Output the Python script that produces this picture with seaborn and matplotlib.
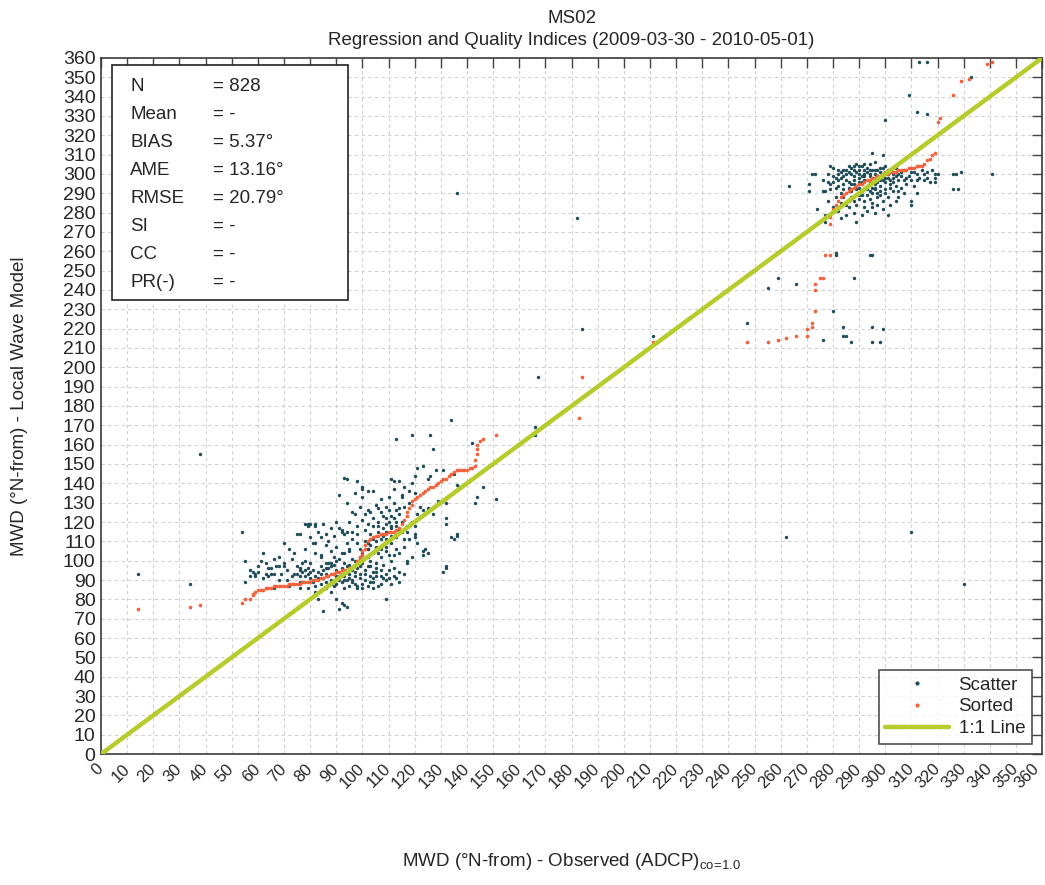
import numpy as np
import pandas as pd
import matplotlib
matplotlib.use('Agg')
import matplotlib.pyplot as plt
import matplotlib.transforms as mtransforms
from matplotlib.lines import Line2D
from matplotlib.patches import Rectangle
import seaborn as sns

# scatter points (observed ADCP, local wave model)
lower_cluster = [
    (134, 173), (113, 163), (119, 165), (126, 165), (127, 158), (142, 161), (151, 132), (143, 130),
    (144, 133), (146, 138), (121, 148), (123, 149), (120, 144), (125, 142), (126, 144), (128, 147),
    (131, 147), (135, 145), (136, 139), (137, 138), (132, 130), (129, 131), (125, 127), (127, 124),
    (132, 122), (132, 119), (136, 114), (135, 111), (123, 105), (125, 104), (117, 99), (132, 96),
    (131, 94), (109, 80), (93, 143), (94, 142), (98, 141), (91, 134), (100, 137), (102, 136),
    (104, 136), (100, 133), (105, 129), (103, 125), (106, 127), (101, 124), (111, 142), (112, 141),
    (114, 141), (112, 137), (115, 134), (115, 133), (110, 133), (107, 125), (113, 126), (109, 122),
    (111, 123), (109, 119), (113, 118), (111, 117), (114, 116), (117, 115), (120, 114), (120, 112),
    (118, 111), (121, 109), (116, 111), (116, 107), (110, 103), (111, 100), (107, 102), (105, 99),
    (102, 97), (104, 94), (107, 95), (108, 91), (109, 90), (111, 88), (113, 91), (114, 89),
    (104, 89), (102, 87), (100, 86), (106, 87), (104, 86), (98, 86), (96, 89), (94, 90),
    (92, 89), (89, 87), (86, 86), (88, 84), (83, 80), (85, 74), (90, 80), (91, 75),
    (93, 77), (94, 76), (82, 84), (79, 86), (81, 89), (76, 89), (74, 93), (76, 95),
    (77, 94), (79, 96), (81, 95), (84, 97), (86, 99), (88, 99), (90, 100), (89, 102),
    (92, 104), (93, 104), (95, 105), (90, 107), (94, 109), (96, 111), (98, 114), (96, 115),
    (94, 115), (92, 116), (89, 113), (86, 114), (83, 115), (82, 118), (79, 119), (79, 118),
    (75, 114), (70, 109), (82, 109), (82, 104), (84, 102), (80, 99), (77, 99), (70, 99),
    (70, 97), (69, 93), (68, 97), (65, 96), (63, 93), (64, 92), (62, 104), (61, 100),
    (59, 93), (57, 92), (55, 100), (55, 89), (54, 115), (58, 94), (66, 86), (72, 87),
    (75, 93), (76, 92), (78, 92), (79, 93), (84, 93), (85, 91), (87, 92), (89, 93),
    (90, 95), (92, 96), (94, 97), (96, 95), (98, 96), (99, 93), (101, 93), (103, 92),
    (97, 92), (95, 93), (93, 92), (100, 99), (99, 102), (102, 102), (104, 104), (102, 106),
    (105, 107), (107, 111), (104, 111), (103, 114), (106, 115), (108, 113), (109, 111), (109, 107),
    (111, 109), (113, 106), (112, 103), (114, 104), (119, 102), (117, 100), (134, 112), (136, 113),
    (132, 97), (124, 106), (123, 103), (60, 94), (59, 92), (64, 96), (65, 93), (66, 101),
    (67, 97), (71, 90), (73, 101), (76, 114), (78, 119), (80, 119), (82, 119), (81, 109),
    (78, 100), (76, 96), (83, 94), (86, 93), (87, 99), (88, 105), (91, 101), (91, 117),
    (92, 115), (93, 114), (100, 138), (92, 78), (76, 86), (82, 87), (90, 88), (93, 86),
    (96, 90), (98, 87), (98, 109), (95, 106), (101, 116), (102, 106), (86, 108), (84, 103),
    (97, 94), (99, 91), (101, 90), (103, 89), (105, 92), (107, 88), (95, 87), (93, 90),
    (91, 92), (88, 90), (86, 89), (84, 88), (100, 104), (102, 109), (104, 118), (106, 120),
    (108, 117), (110, 120), (112, 122), (114, 124), (116, 128), (118, 130), (120, 135), (122, 128),
    (118, 118), (115, 120), (113, 112), (111, 113), (109, 105), (106, 104), (103, 100), (105, 96),
    (108, 98), (110, 95), (112, 96), (98, 118), (100, 121), (102, 119), (97, 124), (95, 120),
    (99, 128), (107, 132), (109, 128), (57, 95), (60, 97), (62, 91), (66, 93), (68, 90),
    (71, 95), (73, 92), (75, 97), (78, 95), (80, 91), (82, 92), (85, 95), (87, 96),
    (88, 97), (90, 92), (92, 93), (94, 94), (95, 98), (97, 100), (99, 97), (101, 95),
    (103, 97), (105, 94), (107, 92), (109, 93), (110, 91), (112, 92), (114, 94), (116, 93),
    (104, 91), (100, 88), (97, 88), (95, 91), (91, 90), (88, 88), (83, 91), (80, 94),
    (86, 96), (89, 98), (93, 99), (96, 101), (99, 106), (101, 110), (103, 108), (105, 110),
    (107, 106), (109, 115), (111, 118), (113, 120), (115, 115), (117, 118), (119, 120), (121, 124),
    (120, 118), (123, 126), (110, 126), (108, 123), (106, 118), (104, 122), (102, 126), (116, 138),
    (118, 136), (112, 130), (114, 127), (119, 140), (96, 125), (94, 130), (97, 135), (90, 120),
    (88, 117), (85, 119), (84, 112), (87, 110), (80, 112), (78, 106), (74, 104), (72, 106),
    (68, 102), (63, 99),
]

upper_cluster = [
    (295, 311), (299, 310), (279, 304), (280, 303), (282, 302), (284, 302), (286, 304), (288, 304),
    (289, 305), (291, 304), (293, 303), (294, 302), (296, 302), (298, 303), (300, 304), (303, 303),
    (304, 303), (307, 302), (310, 301), (312, 300), (315, 300), (316, 298), (319, 298), (320, 300),
    (319, 300), (326, 300), (326, 292), (312, 290), (310, 286), (310, 284), (304, 286), (307, 290),
    (301, 279), (289, 275), (291, 279), (285, 279), (283, 277), (277, 279), (277, 275), (276, 291),
    (277, 291), (279, 295), (278, 296), (281, 298), (283, 298), (285, 300), (287, 300), (289, 301),
    (292, 300), (294, 299), (296, 298), (297, 299), (299, 299), (301, 298), (303, 298), (306, 299),
    (308, 298), (310, 297), (282, 294), (284, 295), (286, 296), (288, 297), (290, 298), (292, 297),
    (294, 296), (296, 295), (298, 294), (300, 296), (302, 295), (304, 294), (306, 293), (284, 292),
    (287, 291), (289, 292), (291, 291), (293, 292), (296, 292), (298, 291), (300, 292), (303, 291),
    (287, 288), (290, 287), (292, 286), (294, 287), (297, 288), (299, 286), (301, 288), (289, 284),
    (292, 283), (295, 285), (297, 284), (299, 282), (285, 284), (283, 285), (280, 283), (288, 280),
    (296, 280), (315, 297), (317, 296), (280, 299), (282, 300), (290, 302), (292, 302), (327, 300),
    (341, 300), (328, 292), (319, 296), (263, 294), (271, 295), (271, 291), (274, 282), (272, 300),
    (273, 300), (285, 297), (287, 295), (289, 294), (291, 296), (293, 294), (295, 293), (297, 296),
    (299, 297), (301, 300), (303, 300), (305, 297), (288, 302), (290, 304), (292, 305), (286, 301),
    (284, 299), (298, 301), (300, 301), (302, 302), (294, 305), (296, 306), (283, 290), (281, 288),
    (286, 286), (291, 289), (293, 289), (295, 290), (297, 290), (305, 291), (308, 295), (311, 294),
    (313, 298), (278, 286), (290, 300), (292, 299), (280, 296), (282, 297), (283, 301), (285, 302),
    (287, 303), (288, 299), (290, 296), (291, 299), (293, 301), (294, 300), (295, 302), (296, 300),
    (297, 302), (298, 297), (299, 303), (300, 298), (301, 302), (302, 297), (303, 296), (304, 299),
    (305, 300), (306, 301), (307, 297), (309, 299), (311, 301), (312, 297), (314, 302), (316, 301),
    (318, 302), (286, 293), (288, 295), (290, 293), (292, 292), (294, 291), (296, 293), (298, 289),
    (300, 290), (302, 293), (288, 286), (290, 289), (284, 288), (286, 283), (282, 281), (293, 281),
    (295, 283), (302, 284), (305, 288), (279, 292), (281, 293), (276, 297), (278, 300),
]

outliers = [
    (14, 93), (34, 88), (38, 155), (136, 290), (182, 277), (184, 220), (211, 216), (166, 165),
    (166, 169), (167, 195), (262, 112), (310, 115), (330, 88), (329, 301), (313, 358), (316, 358),
    (309, 341), (312, 332), (316, 331), (300, 328), (333, 350), (247, 223), (255, 241), (259, 246),
    (266, 243), (288, 246), (280, 229), (284, 221), (295, 221), (299, 220), (276, 214), (284, 216),
    (285, 216), (287, 213), (295, 213), (298, 213), (281, 258), (295, 258), (281, 259), (294, 258),
]

# sorted observed vs sorted model (quantile curve)
sorted_pairs = [
    (14, 75), (34, 76), (38, 77), (54, 78), (55, 80), (57, 80), (58, 82), (58, 83), (59, 84), (60, 85),
    (61, 85), (62, 85), (63, 86), (64, 86), (65, 86), (66, 87), (67, 87), (68, 87), (69, 87), (70, 87),
    (71, 87), (72, 88), (73, 88), (74, 88), (75, 88), (76, 88), (77, 89), (78, 89), (79, 89), (80, 89),
    (81, 90), (82, 90), (83, 90), (84, 91), (85, 91), (86, 92), (87, 92), (88, 93), (89, 93), (90, 94),
    (91, 94), (92, 95), (93, 95), (94, 95), (95, 96), (96, 96), (97, 97), (97, 98), (98, 99), (98, 100),
    (99, 101), (99, 102), (100, 103), (100, 105), (101, 106), (101, 108), (102, 110), (103, 111),
    (104, 112), (105, 113), (106, 113), (107, 114), (108, 114), (109, 114), (110, 115), (111, 115),
    (112, 115), (113, 116), (114, 117), (115, 119), (116, 121), (117, 123), (117, 125), (118, 127),
    (119, 129), (119, 131), (120, 132), (121, 133), (122, 134), (123, 135), (124, 136), (125, 137),
    (126, 138), (127, 138), (128, 139), (129, 140), (130, 141), (131, 142), (132, 142), (133, 144),
    (134, 145), (135, 146), (136, 147), (137, 147), (138, 147), (139, 147), (140, 147), (141, 148),
    (142, 148), (143, 149), (143, 152), (144, 155), (144, 158), (144, 160), (145, 162), (146, 163),
    (151, 165), (183, 174), (184, 195), (211, 213), (247, 213), (255, 213), (259, 214), (262, 215),
    (266, 216), (270, 216), (270, 220), (272, 221), (272, 223), (273, 229), (273, 240), (273, 243),
    (275, 246), (276, 246), (277, 258), (279, 258), (279, 274), (279, 278), (280, 282), (281, 284),
    (282, 286), (283, 288), (284, 289), (285, 290), (286, 291), (287, 292), (288, 293), (289, 294),
    (290, 295), (291, 295), (292, 296), (293, 297), (294, 297), (295, 298), (296, 298), (297, 299),
    (298, 299), (299, 300), (300, 300), (301, 300), (302, 301), (303, 301), (304, 301), (305, 302),
    (306, 302), (307, 302), (308, 302), (309, 303), (310, 303), (311, 303), (312, 304), (313, 304),
    (314, 304), (315, 305), (316, 307), (317, 308), (318, 310), (319, 311), (320, 327), (321, 329),
    (326, 341), (329, 348), (332, 349), (339, 357), (341, 358),
]

one_to_one = [0, 360]

stat_names = ['N', 'Mean', 'BIAS', 'AME', 'RMSE', 'SI', 'CC', 'PR(-)']
stat_values = ['= 828', '= -', '= 5.37°', '= 13.16°', '= 20.79°', '= -', '= -', '= -']

ticks = np.arange(0, 361, 10)

scatter_df = pd.DataFrame(lower_cluster + upper_cluster + outliers, columns=['obs', 'model'])
sorted_df = pd.DataFrame(sorted_pairs, columns=['obs', 'model'])

teal = '#1f4c58'
red = '#f2623d'
green = '#b5cc2c'

sns.set_theme(style='white')
plt.rcParams['font.family'] = ['Liberation Sans', 'DejaVu Sans']
plt.rcParams['mathtext.fontset'] = 'custom'
plt.rcParams['mathtext.rm'] = 'Liberation Sans'

fig = plt.figure(figsize=(10.45, 8.85), dpi=100)
ax = fig.add_axes([0.0967, 0.148, 0.9005, 0.7865])

sns.scatterplot(data=scatter_df, x='obs', y='model', ax=ax, color=teal, s=6,
                linewidth=0, legend=False, zorder=3)
sns.scatterplot(data=sorted_df, x='obs', y='model', ax=ax, color=red, s=7,
                linewidth=0, legend=False, zorder=4)
sns.lineplot(x=one_to_one, y=one_to_one, ax=ax, color=green, linewidth=3.2,
             legend=False, zorder=5)

ax.set_xlim(0, 360)
ax.set_ylim(0, 360)
ax.set_xticks(ticks)
ax.set_yticks(ticks)
ax.set_xticklabels([str(t) for t in ticks], rotation=45, ha='right', va='center',
                   rotation_mode='anchor', fontsize=12)
ax.set_yticklabels([str(t) for t in ticks], fontsize=14)
ax.tick_params(axis='both', direction='in', length=7, width=1, color='#444444',
               top=True, right=True, pad=4)
ax.tick_params(axis='x', pad=9)
# nudge the last tick label so it stays inside the figure
last = ax.get_xticklabels()[-1]
last.set_transform(last.get_transform() +
                   mtransforms.ScaledTranslation(-4 / 72, 0, fig.dpi_scale_trans))
ax.grid(True, linestyle=(0, (3, 3)), color='#d0d0d0', linewidth=0.8)
ax.set_axisbelow(True)
for sp in ax.spines.values():
    sp.set_color('#3c3c3c')
    sp.set_linewidth(1.2)

ax.set_title('MS02\nRegression and Quality Indices (2009-03-30 - 2010-05-01)',
             fontsize=13.5, pad=9, linespacing=1.45)
ax.set_xlabel('MWD (°N-from) - Observed (ADCP)$_{\\mathrm{co\\!=\\!1.0}}$', fontsize=13.5)
ax.set_ylabel('MWD (°N-from) - Local Wave Model', fontsize=13.5)
ax.xaxis.set_label_coords(0.5, -0.14)
ax.yaxis.set_label_coords(-0.078, 0.5)

# statistics box
ax.add_patch(Rectangle((0.0117, 0.6523), 0.2508, 0.3376, transform=ax.transAxes,
                       facecolor='white', edgecolor='#222222', linewidth=1.2, zorder=6))
for i, (name, val) in enumerate(zip(stat_names, stat_values)):
    yy = (754 - (87 + 27.9 * i)) / 696
    ax.text(0.0308, yy, name, transform=ax.transAxes, fontsize=13.5, va='center', zorder=7)
    ax.text(0.119, yy, val, transform=ax.transAxes, fontsize=13.5, va='center', zorder=7)

handles = [
    Line2D([], [], linestyle='none', marker='o', markersize=2, color=teal),
    Line2D([], [], linestyle='none', marker='o', markersize=2, color=red),
    Line2D([], [], color=green, linewidth=3.2),
]
leg = ax.legend(handles, ['Scatter', 'Sorted', '1:1 Line'], loc='lower right', fontsize=13.5,
                frameon=True, fancybox=False, edgecolor='#222222', handlelength=3.4,
                labelspacing=0.25, borderpad=0.35, borderaxespad=0.55, handletextpad=0.5)
leg.get_frame().set_linewidth(1.2)
leg.set_zorder(8)

fig.savefig('out.png', dpi=100)
